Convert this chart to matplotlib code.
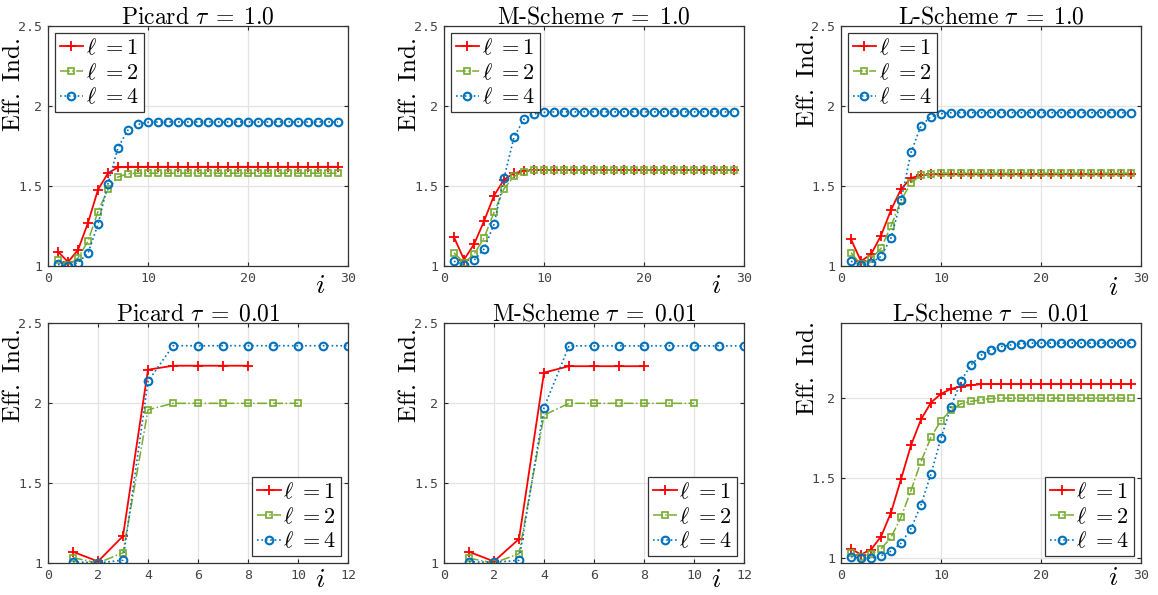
import matplotlib
matplotlib.use("Agg")
import matplotlib.pyplot as plt

plt.rcParams["mathtext.fontset"] = "cm"

# ---------------- data ----------------
iters_30 = list(range(1, 30))
iters_8 = list(range(1, 9))
iters_10 = list(range(1, 11))
iters_12 = list(range(1, 13))

picard_t1_l1 = [1.09, 1.025, 1.10, 1.27, 1.477, 1.58, 1.617, 1.62, 1.62, 1.62,
                1.62, 1.62, 1.62, 1.62, 1.62, 1.62, 1.62, 1.62, 1.62, 1.62,
                1.62, 1.62, 1.62, 1.62, 1.62, 1.62, 1.62, 1.62, 1.62]
picard_t1_l2 = [1.035, 1.005, 1.05, 1.155, 1.34, 1.48, 1.556, 1.577, 1.58, 1.58,
                1.58, 1.58, 1.58, 1.58, 1.58, 1.58, 1.58, 1.58, 1.58, 1.58,
                1.58, 1.58, 1.58, 1.58, 1.58, 1.58, 1.58, 1.58, 1.58]
picard_t1_l4 = [1.01, 1.0, 1.02, 1.08, 1.26, 1.515, 1.74, 1.85, 1.885, 1.898,
                1.90, 1.90, 1.90, 1.90, 1.90, 1.90, 1.90, 1.90, 1.90, 1.90,
                1.90, 1.90, 1.90, 1.90, 1.90, 1.90, 1.90, 1.90, 1.90]

mscheme_t1_l1 = [1.18, 1.04, 1.135, 1.28, 1.44, 1.54, 1.58, 1.594, 1.60, 1.60,
                 1.60, 1.60, 1.60, 1.60, 1.60, 1.60, 1.60, 1.60, 1.60, 1.60,
                 1.60, 1.60, 1.60, 1.60, 1.60, 1.60, 1.60, 1.60, 1.60]
mscheme_t1_l2 = [1.083, 1.02, 1.073, 1.175, 1.335, 1.483, 1.56, 1.59, 1.60, 1.60,
                 1.60, 1.60, 1.60, 1.60, 1.60, 1.60, 1.60, 1.60, 1.60, 1.60,
                 1.60, 1.60, 1.60, 1.60, 1.60, 1.60, 1.60, 1.60, 1.60]
mscheme_t1_l4 = [1.03, 1.008, 1.035, 1.106, 1.26, 1.548, 1.806, 1.917, 1.95, 1.96,
                 1.963, 1.963, 1.963, 1.963, 1.963, 1.963, 1.963, 1.963, 1.963, 1.963,
                 1.963, 1.963, 1.963, 1.963, 1.963, 1.963, 1.963, 1.963, 1.963]

lscheme_t1_l1 = [1.167, 1.03, 1.073, 1.19, 1.35, 1.48, 1.55, 1.567, 1.573, 1.573,
                 1.573, 1.573, 1.573, 1.573, 1.573, 1.573, 1.573, 1.573, 1.573, 1.573,
                 1.573, 1.573, 1.573, 1.573, 1.573, 1.573, 1.573, 1.573, 1.573]
lscheme_t1_l2 = [1.083, 1.01, 1.045, 1.11, 1.25, 1.41, 1.52, 1.567, 1.577, 1.58,
                 1.58, 1.58, 1.58, 1.58, 1.58, 1.58, 1.58, 1.58, 1.58, 1.58,
                 1.58, 1.58, 1.58, 1.58, 1.58, 1.58, 1.58, 1.58, 1.58]
lscheme_t1_l4 = [1.03, 1.005, 1.02, 1.06, 1.175, 1.41, 1.71, 1.877, 1.933, 1.952,
                 1.958, 1.958, 1.958, 1.958, 1.958, 1.958, 1.958, 1.958, 1.958, 1.958,
                 1.958, 1.958, 1.958, 1.958, 1.958, 1.958, 1.958, 1.958, 1.958]

picard_t001_l1 = [1.07, 1.01, 1.168, 2.208, 2.233, 2.233, 2.233, 2.233]
picard_t001_l2 = [1.033, 1.0, 1.064, 1.958, 1.998, 1.998, 1.998, 1.998, 1.998, 1.998]
picard_t001_l4 = [1.008, 1.0, 1.018, 2.135, 2.358, 2.358, 2.358, 2.358, 2.358, 2.358,
                  2.358, 2.358]

mscheme_t001_l1 = [1.07, 1.01, 1.15, 2.19, 2.23, 2.23, 2.23, 2.23]
mscheme_t001_l2 = [1.03, 1.0, 1.058, 1.924, 1.998, 1.998, 1.998, 1.998, 1.998, 1.998]
mscheme_t001_l4 = [1.008, 1.004, 1.017, 1.971, 2.357, 2.357, 2.357, 2.357, 2.357, 2.357,
                   2.357, 2.357]

lscheme_t001_l1 = [1.058, 1.023, 1.054, 1.135, 1.285, 1.494, 1.706, 1.867, 1.973, 2.027,
                   2.058, 2.073, 2.081, 2.088, 2.088, 2.088, 2.088, 2.088, 2.088, 2.088,
                   2.088, 2.088, 2.088, 2.088, 2.088, 2.088, 2.088, 2.088, 2.088]
lscheme_t001_l2 = [1.03, 1.008, 1.027, 1.058, 1.13, 1.256, 1.423, 1.604, 1.756, 1.86,
                   1.927, 1.965, 1.98, 1.99, 1.998, 2.0, 2.0, 2.0, 2.0, 2.0,
                   2.0, 2.0, 2.0, 2.0, 2.0, 2.0, 2.0, 2.0, 2.0]
lscheme_t001_l4 = [1.01, 1.0, 1.0, 1.015, 1.044, 1.094, 1.185, 1.333, 1.527, 1.75,
                   1.948, 2.108, 2.208, 2.269, 2.302, 2.323, 2.333, 2.34, 2.344, 2.344,
                   2.344, 2.344, 2.344, 2.344, 2.344, 2.344, 2.344, 2.344, 2.344]

level_labels = [r"$\ell\ \mathrm{=}1$", r"$\ell\ \mathrm{=}2$", r"$\ell\ \mathrm{=}4$"]

titles = [r"$\mathrm{Picard}\ \tau\;\mathrm{=}\;1.0$",
          r"$\mathrm{M\text{-}Scheme}\ \tau\;\mathrm{=}\;1.0$",
          r"$\mathrm{L\text{-}Scheme}\ \tau\;\mathrm{=}\;1.0$",
          r"$\mathrm{Picard}\ \tau\;\mathrm{=}\;0.01$",
          r"$\mathrm{M\text{-}Scheme}\ \tau\;\mathrm{=}\;0.01$",
          r"$\mathrm{L\text{-}Scheme}\ \tau\;\mathrm{=}\;0.01$"]

xticks_long = [0, 10, 20, 30]
xticks_short = [0, 2, 4, 6, 8, 10, 12]
yticks_full = [1, 1.5, 2, 2.5]
yticks_three = [1, 1.5, 2]

# ---------------- styles ----------------
RED = "#FF0000"
GREEN = "#77AC30"
BLUE = "#0072BD"
styles = [
    dict(color=RED, ls="-", marker="+", ms=7, mew=1.3, lw=1.3),
    dict(color=GREEN, ls="-.", marker="s", ms=4.5, mew=1.2, mfc="none", lw=1.1),
    dict(color=BLUE, ls=":", marker="o", ms=5.5, mew=1.5, mfc="none", lw=1.2),
]

panels = [
    dict(x=[iters_30] * 3, y=[picard_t1_l1, picard_t1_l2, picard_t1_l4],
         xlim=(0, 30), xt=xticks_long, ylim=(1, 2.5), yt=yticks_full, loc="upper left"),
    dict(x=[iters_30] * 3, y=[mscheme_t1_l1, mscheme_t1_l2, mscheme_t1_l4],
         xlim=(0, 30), xt=xticks_long, ylim=(1, 2.5), yt=yticks_full, loc="upper left"),
    dict(x=[iters_30] * 3, y=[lscheme_t1_l1, lscheme_t1_l2, lscheme_t1_l4],
         xlim=(0, 30), xt=xticks_long, ylim=(1, 2.5), yt=yticks_full, loc="upper left"),
    dict(x=[iters_8, iters_10, iters_12], y=[picard_t001_l1, picard_t001_l2, picard_t001_l4],
         xlim=(0, 12), xt=xticks_short, ylim=(1, 2.5), yt=yticks_full, loc="lower right"),
    dict(x=[iters_8, iters_10, iters_12], y=[mscheme_t001_l1, mscheme_t001_l2, mscheme_t001_l4],
         xlim=(0, 12), xt=xticks_short, ylim=(1, 2.5), yt=yticks_full, loc="lower right"),
    dict(x=[iters_30] * 3, y=[lscheme_t001_l1, lscheme_t001_l2, lscheme_t001_l4],
         xlim=(0, 30), xt=xticks_long, ylim=(0.97, 2.47), yt=yticks_three, loc="lower right"),
]

# axes placement in figure pixels: left, top
W, H = 1158, 595
AX_W, AX_H = 300, 240
lefts = [48, 444, 841]
tops = [26, 323]
ylabel_y = [0.756, 0.755, 0.77, 0.78, 0.78, 0.81]
ilabel_y = [-0.08, -0.08, -0.087, -0.068, -0.068, -0.06]

fig = plt.figure(figsize=(W / 100, H / 100), dpi=100)
fig.patch.set_facecolor("white")

for k, p in enumerate(panels):
    row, col = divmod(k, 3)
    left = lefts[col] / W
    bottom = 1 - (tops[row] + AX_H) / H
    ax = fig.add_axes([left, bottom, AX_W / W, AX_H / H])

    for xs, ys, st, lab in zip(p["x"], p["y"], styles, level_labels):
        ax.plot(xs, ys, label=lab, **st)

    ax.set_xlim(*p["xlim"])
    ax.set_ylim(*p["ylim"])
    ax.set_xticks(p["xt"])
    ax.set_yticks(p["yt"])
    ax.set_xticklabels([f"{v:g}" for v in p["xt"]])
    ax.set_yticklabels([f"{v:g}" for v in p["yt"]])
    for lbl in ax.get_xticklabels() + ax.get_yticklabels():
        lbl.set_fontfamily("DejaVu Sans Mono")
        lbl.set_fontsize(9.5)
        lbl.set_color("#444444")
    ax.tick_params(direction="in", top=True, right=True, length=3,
                   width=0.8, color="#262626", pad=4)
    ax.grid(True, color="#e3e3e3", lw=0.9)
    ax.set_axisbelow(True)
    for sp in ax.spines.values():
        sp.set_color("#333333")
        sp.set_linewidth(0.9)

    ax.set_title(titles[k], fontsize=17, pad=2)
    ax.set_ylabel(r"$\mathrm{Eff.\ Ind.}$", fontsize=18)
    ax.yaxis.set_label_coords(-0.075, ylabel_y[k])
    ax.text(0.907, ilabel_y[k], r"$i$", transform=ax.transAxes, fontsize=20,
            ha="center", va="center")

    leg = ax.legend(loc=p["loc"], fontsize=16, handlelength=1.05, handletextpad=0.12,
                    labelspacing=0.18, borderpad=0.22, borderaxespad=0.3,
                    fancybox=False, framealpha=1, edgecolor="#333333")
    leg.get_frame().set_linewidth(0.9)

fig.savefig("out.png", dpi=100, facecolor="white")
